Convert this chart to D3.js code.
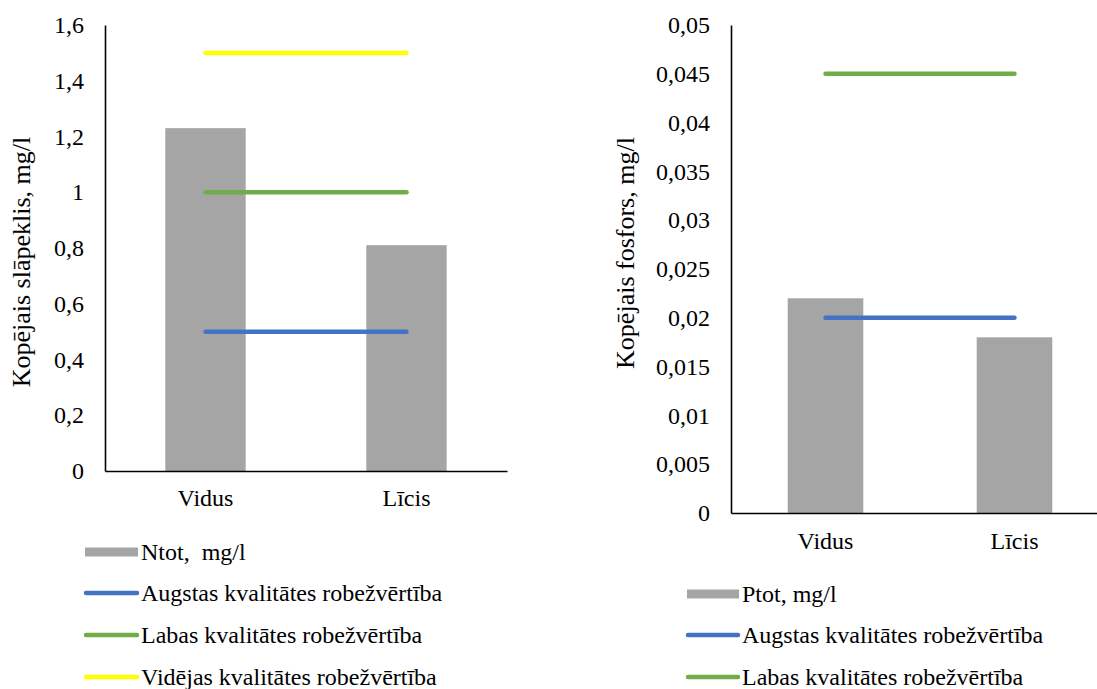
<!DOCTYPE html>
<html>
<head>
<meta charset="utf-8">
<script src="https://cdn.jsdelivr.net/npm/d3@7"></script>
<style>
  body { margin: 0; background: #fff; }
  svg { display: block; }
  svg text { fill: #000; white-space: pre; }
</style>
</head>
<body>
<svg id="chart" width="1097" height="689"></svg>
<script>
// ---- Data ----
const categories = ["Vidus", "Līcis"];

const nitrogenValues = [1.23, 0.81];
const nitrogenHigh = [0.5, 0.5];
const nitrogenGood = [1.0, 1.0];
const nitrogenModerate = [1.5, 1.5];
const nitrogenTicks = [0, 0.2, 0.4, 0.6, 0.8, 1.0, 1.2, 1.4, 1.6];

const phosphorusValues = [0.022, 0.018];
const phosphorusHigh = [0.02, 0.02];
const phosphorusGood = [0.045, 0.045];
const phosphorusTicks = [0, 0.005, 0.01, 0.015, 0.02, 0.025, 0.03, 0.035, 0.04, 0.045, 0.05];

const legendN = ["Ntot,  mg/l", "Augstas kvalitātes robežvērtība", "Labas kvalitātes robežvērtība", "Vidējas kvalitātes robežvērtība"];
const legendP = ["Ptot, mg/l", "Augstas kvalitātes robežvērtība", "Labas kvalitātes robežvērtība"];

const COLORS = { bar: "#A5A5A5", high: "#4472C4", good: "#70AD47", moderate: "#FFFF00" };
const FONT = '"Liberation Serif"';
const FS = "24px";
const FS_TITLE = "26px";

const locale = d3.formatLocale({ decimal: ",", thousands: " ", grouping: [3], currency: ["", ""] });
const fmt = locale.format("~g");

const svg = d3.select("#chart");

function styleText(sel, size) {
  return sel.style("font-family", FONT).style("font-size", size).attr("fill", "#000");
}

function drawChart(cfg) {
  const g = svg.append("g");
  const x = d3.scaleBand().domain(categories).range([cfg.left, cfg.right])
    .paddingInner(0.6).paddingOuter(0.3);
  const y = d3.scaleLinear().domain([0, cfg.max]).range([cfg.bottom, cfg.top]);

  g.selectAll("rect.bar").data(cfg.values).enter().append("rect")
    .attr("class", "bar")
    .attr("x", (d, i) => x(categories[i]))
    .attr("width", x.bandwidth())
    .attr("y", d => y(d))
    .attr("height", d => y(0) - y(d))
    .attr("fill", COLORS.bar);

  const line = d3.line()
    .x((d, i) => x(categories[i]) + x.bandwidth() / 2)
    .y(d => y(d));
  cfg.lines.forEach(l => {
    g.append("path").datum(l.values)
      .attr("d", line)
      .attr("fill", "none")
      .attr("stroke", l.color)
      .attr("stroke-width", 4.5)
      .attr("stroke-linecap", "round");
  });

  const yAxis = d3.axisLeft(y).tickValues(cfg.ticks).tickFormat(fmt).tickSize(0).tickPadding(cfg.tickPad);
  const ya = g.append("g").attr("transform", `translate(${cfg.left},0)`).call(yAxis);
  ya.select(".domain").attr("stroke", "#000").attr("stroke-width", 1.6);
  styleText(ya.selectAll("text"), FS);

  const xAxis = d3.axisBottom(x).tickSize(0).tickPadding(cfg.xPad);
  const xa = g.append("g").attr("transform", `translate(0,${cfg.bottom})`).call(xAxis);
  xa.select(".domain").attr("stroke", "#000").attr("stroke-width", 1.6);
  styleText(xa.selectAll("text"), FS);

  styleText(g.append("text")
    .attr("transform", `translate(${cfg.titleX},${cfg.titleY}) rotate(-90)`)
    .attr("text-anchor", "middle")
    .attr("dominant-baseline", "central")
    .text(cfg.title), FS_TITLE);

  cfg.legend.forEach((item, i) => {
    const yy = cfg.legendY[i];
    if (item.type === "bar") {
      g.append("rect").attr("x", cfg.legendX).attr("y", yy - 4.5)
        .attr("width", cfg.swatchW).attr("height", 9).attr("fill", item.color);
    } else {
      g.append("line").attr("x1", cfg.legendX + 1).attr("x2", cfg.legendX + cfg.swatchW - 1)
        .attr("y1", yy).attr("y2", yy)
        .attr("stroke", item.color).attr("stroke-width", 4.5).attr("stroke-linecap", "round");
    }
    styleText(g.append("text").attr("x", cfg.legendX + cfg.swatchW + 3).attr("y", yy)
      .attr("dominant-baseline", "central")
      .text(item.label), FS);
  });
}

drawChart({
  left: 105, right: 507, top: 25, bottom: 471, max: 1.6,
  values: nitrogenValues, ticks: nitrogenTicks, tickPad: 21, xPad: 18,
  lines: [
    { values: nitrogenHigh, color: COLORS.high },
    { values: nitrogenGood, color: COLORS.good },
    { values: nitrogenModerate, color: COLORS.moderate }
  ],
  title: "Kopējais slāpeklis, mg/l", titleX: 21, titleY: 262,
  legendX: 85, swatchW: 53, legendY: [552, 593, 635, 677],
  legend: [
    { type: "bar", color: COLORS.bar, label: legendN[0] },
    { type: "line", color: COLORS.high, label: legendN[1] },
    { type: "line", color: COLORS.good, label: legendN[2] },
    { type: "line", color: COLORS.moderate, label: legendN[3] }
  ]
});

drawChart({
  left: 731, right: 1109, top: 25, bottom: 513, max: 0.05,
  values: phosphorusValues, ticks: phosphorusTicks, tickPad: 21, xPad: 19,
  lines: [
    { values: phosphorusHigh, color: COLORS.high },
    { values: phosphorusGood, color: COLORS.good }
  ],
  title: "Kopējais fosfors, mg/l", titleX: 625, titleY: 253,
  legendX: 687, swatchW: 52, legendY: [594, 635, 677],
  legend: [
    { type: "bar", color: COLORS.bar, label: legendP[0] },
    { type: "line", color: COLORS.high, label: legendP[1] },
    { type: "line", color: COLORS.good, label: legendP[2] }
  ]
});
</script>
</body>
</html>
